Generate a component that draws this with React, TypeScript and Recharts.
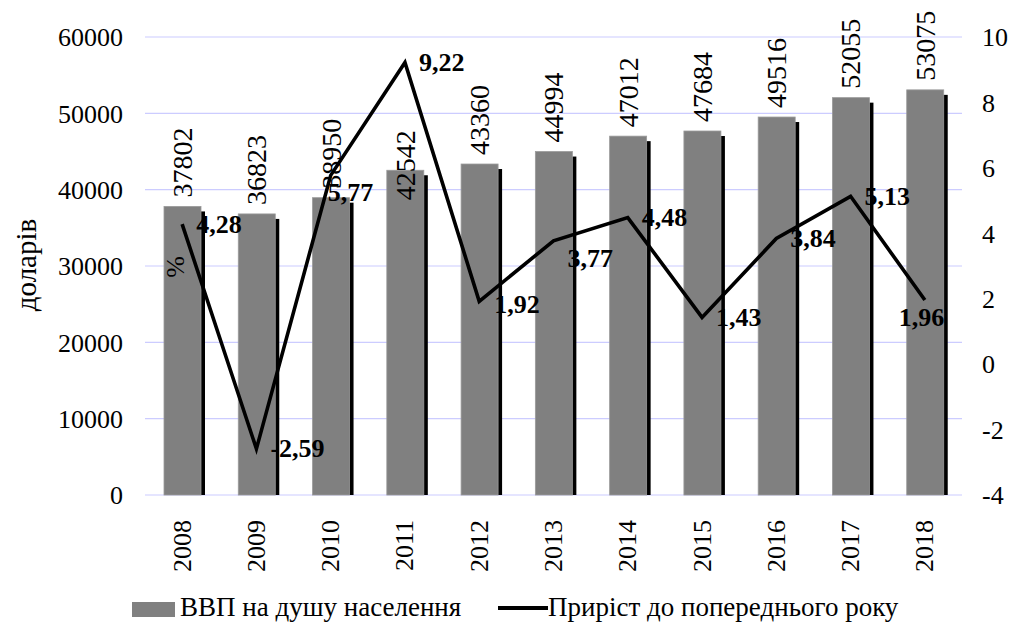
import React from 'react';
import {
  ComposedChart,
  Bar,
  Line,
  XAxis,
  YAxis,
  CartesianGrid,
  LabelList,
  Legend,
  Label,
} from 'recharts';

const years = ['2008', '2009', '2010', '2011', '2012', '2013', '2014', '2015', '2016', '2017', '2018'];
const gdpPerCapita = [37802, 36823, 38950, 42542, 43360, 44994, 47012, 47684, 49516, 52055, 53075];
const growth = [4.28, -2.59, 5.77, 9.22, 1.92, 3.77, 4.48, 1.43, 3.84, 5.13, 1.96];
const leftTicks = [0, 10000, 20000, 30000, 40000, 50000, 60000];
const rightTicks = [-4, -2, 0, 2, 4, 6, 8, 10];

const barName = 'ВВП на душу населення';
const lineName = 'Приріст до попереднього року';
const leftTitle = 'доларів';
const rightTitle = '%';

const data = years.map((year, i) => ({ year, gdp: gdpPerCapita[i], growth: growth[i] }));

const FONT = 'Liberation Serif';

// label nudges (style only), keyed by category index
const lineLabelNudge: Record<number, [number, number]> = {
  2: [-3, 17],
  4: [15, 3],
  5: [14, 18],
  10: [-26, 17],
};
const barLabelNudge: Record<number, number> = { 3: 39 };

const ShadowBar = (props: any) => {
  const { x, y, width, height } = props;
  if (height <= 0) return null;
  return (
    <g>
      <rect x={x + 4} y={y + 5} width={width} height={height - 5} fill="#000" />
      <rect x={x} y={y} width={width} height={height} fill="#808080" stroke="#9a9a9a" strokeWidth={0.8} />
    </g>
  );
};

const BarValueLabel = (props: any) => {
  const { x, y, width, value, index } = props;
  const cx = x + width / 2;
  const ty = y - 9 + (barLabelNudge[index] || 0);
  return (
    <text
      x={cx}
      y={ty}
      transform={`rotate(-90 ${cx} ${ty})`}
      textAnchor="start"
      dominantBaseline="central"
      fontSize={28}
      fontFamily={FONT}
      fill="#000"
    >
      {value}
    </text>
  );
};

const LineValueLabel = (props: any) => {
  const { x, y, value, index } = props;
  const [dx, dy] = lineLabelNudge[index] || [14, 0];
  return (
    <text
      x={x + dx}
      y={y + dy}
      textAnchor="start"
      dominantBaseline="central"
      fontSize={26}
      fontWeight="bold"
      fontFamily={FONT}
      fill="#000"
    >
      {String(value).replace('.', ',')}
    </text>
  );
};

const YearTick = (props: any) => {
  const { x, y, payload } = props;
  return (
    <text
      x={x}
      y={y}
      transform={`rotate(-90 ${x} ${y})`}
      textAnchor="end"
      dominantBaseline="central"
      fontSize={26}
      fontFamily={FONT}
      fill="#000"
    >
      {payload.value}
    </text>
  );
};

const LegendContent = () => (
  <div style={{ position: 'relative', height: 40, width: 1009, fontFamily: FONT, fontSize: 27, color: '#000' }}>
    <div style={{ position: 'absolute', left: 132, top: 18, width: 43, height: 15, background: '#808080' }} />
    <div style={{ position: 'absolute', left: 180, top: 8, lineHeight: '30px', whiteSpace: 'nowrap' }}>{barName}</div>
    <div style={{ position: 'absolute', left: 498, top: 22, width: 50, height: 4, background: '#000' }} />
    <div style={{ position: 'absolute', left: 548, top: 8, lineHeight: '30px', whiteSpace: 'nowrap' }}>{lineName}</div>
  </div>
);

export default function App() {
  return (
    <div style={{ position: 'absolute', left: 0, top: 0, width: 1009, height: 624, background: '#fff' }}>
      <ComposedChart
        width={1009}
        height={624}
        data={data}
        margin={{ top: 37, right: 0, bottom: 0, left: 0 }}
      >
        <CartesianGrid yAxisId="left" horizontal vertical={false} stroke="#ccccff" strokeWidth={1.2} />
        <XAxis
          dataKey="year"
          axisLine={false}
          tickLine={false}
          tickSize={0}
          tickMargin={25}
          height={89}
          interval={0}
          tick={<YearTick />}
        />
        <YAxis
          yAxisId="left"
          orientation="left"
          width={145}
          domain={[0, 60000]}
          ticks={leftTicks}
          axisLine={false}
          tickLine={false}
          tickSize={0}
          tickMargin={22}
          tick={{ fill: '#000', fontSize: 26, fontFamily: FONT }}
        >
          <Label
            content={(p: any) => {
              const vb = p.viewBox || { x: 0, y: 37, height: 458 };
              const cx = vb.x + 26;
              const cy = vb.y + vb.height / 2 - 1;
              return (
                <text
                  x={cx}
                  y={cy}
                  transform={`rotate(-90 ${cx} ${cy})`}
                  textAnchor="middle"
                  dominantBaseline="central"
                  fontSize={29}
                  fontFamily={FONT}
                  fill="#000"
                >
                  {leftTitle}
                </text>
              );
            }}
          />
        </YAxis>
        <YAxis
          yAxisId="right"
          orientation="right"
          width={47}
          domain={[-4, 10]}
          ticks={rightTicks}
          axisLine={false}
          tickLine={false}
          tickSize={0}
          tickMargin={20}
          tick={{ fill: '#000', fontSize: 26, fontFamily: FONT, textAnchor: 'start' }}
        />
        <Bar
          yAxisId="left"
          dataKey="gdp"
          name={barName}
          barSize={37}
          fill="#808080"
          shape={<ShadowBar />}
          isAnimationActive={false}
        >
          <LabelList dataKey="gdp" content={<BarValueLabel />} />
        </Bar>
        <Line
          yAxisId="right"
          dataKey="growth"
          name={lineName}
          stroke="#000"
          strokeWidth={3.6}
          dot={false}
          activeDot={false}
          type="linear"
          isAnimationActive={false}
        >
          <LabelList dataKey="growth" content={<LineValueLabel />} />
        </Line>
        <Legend verticalAlign="bottom" align="left" wrapperStyle={{ left: 0, width: 1009 }} content={<LegendContent />} />
      </ComposedChart>
      <div
        style={{
          position: 'absolute',
          left: 176,
          top: 267,
          transform: 'translate(-50%, -50%) rotate(-90deg)',
          fontFamily: FONT,
          fontSize: 26,
          lineHeight: '26px',
          color: '#000',
          pointerEvents: 'none',
        }}
      >
        {rightTitle}
      </div>
    </div>
  );
}
